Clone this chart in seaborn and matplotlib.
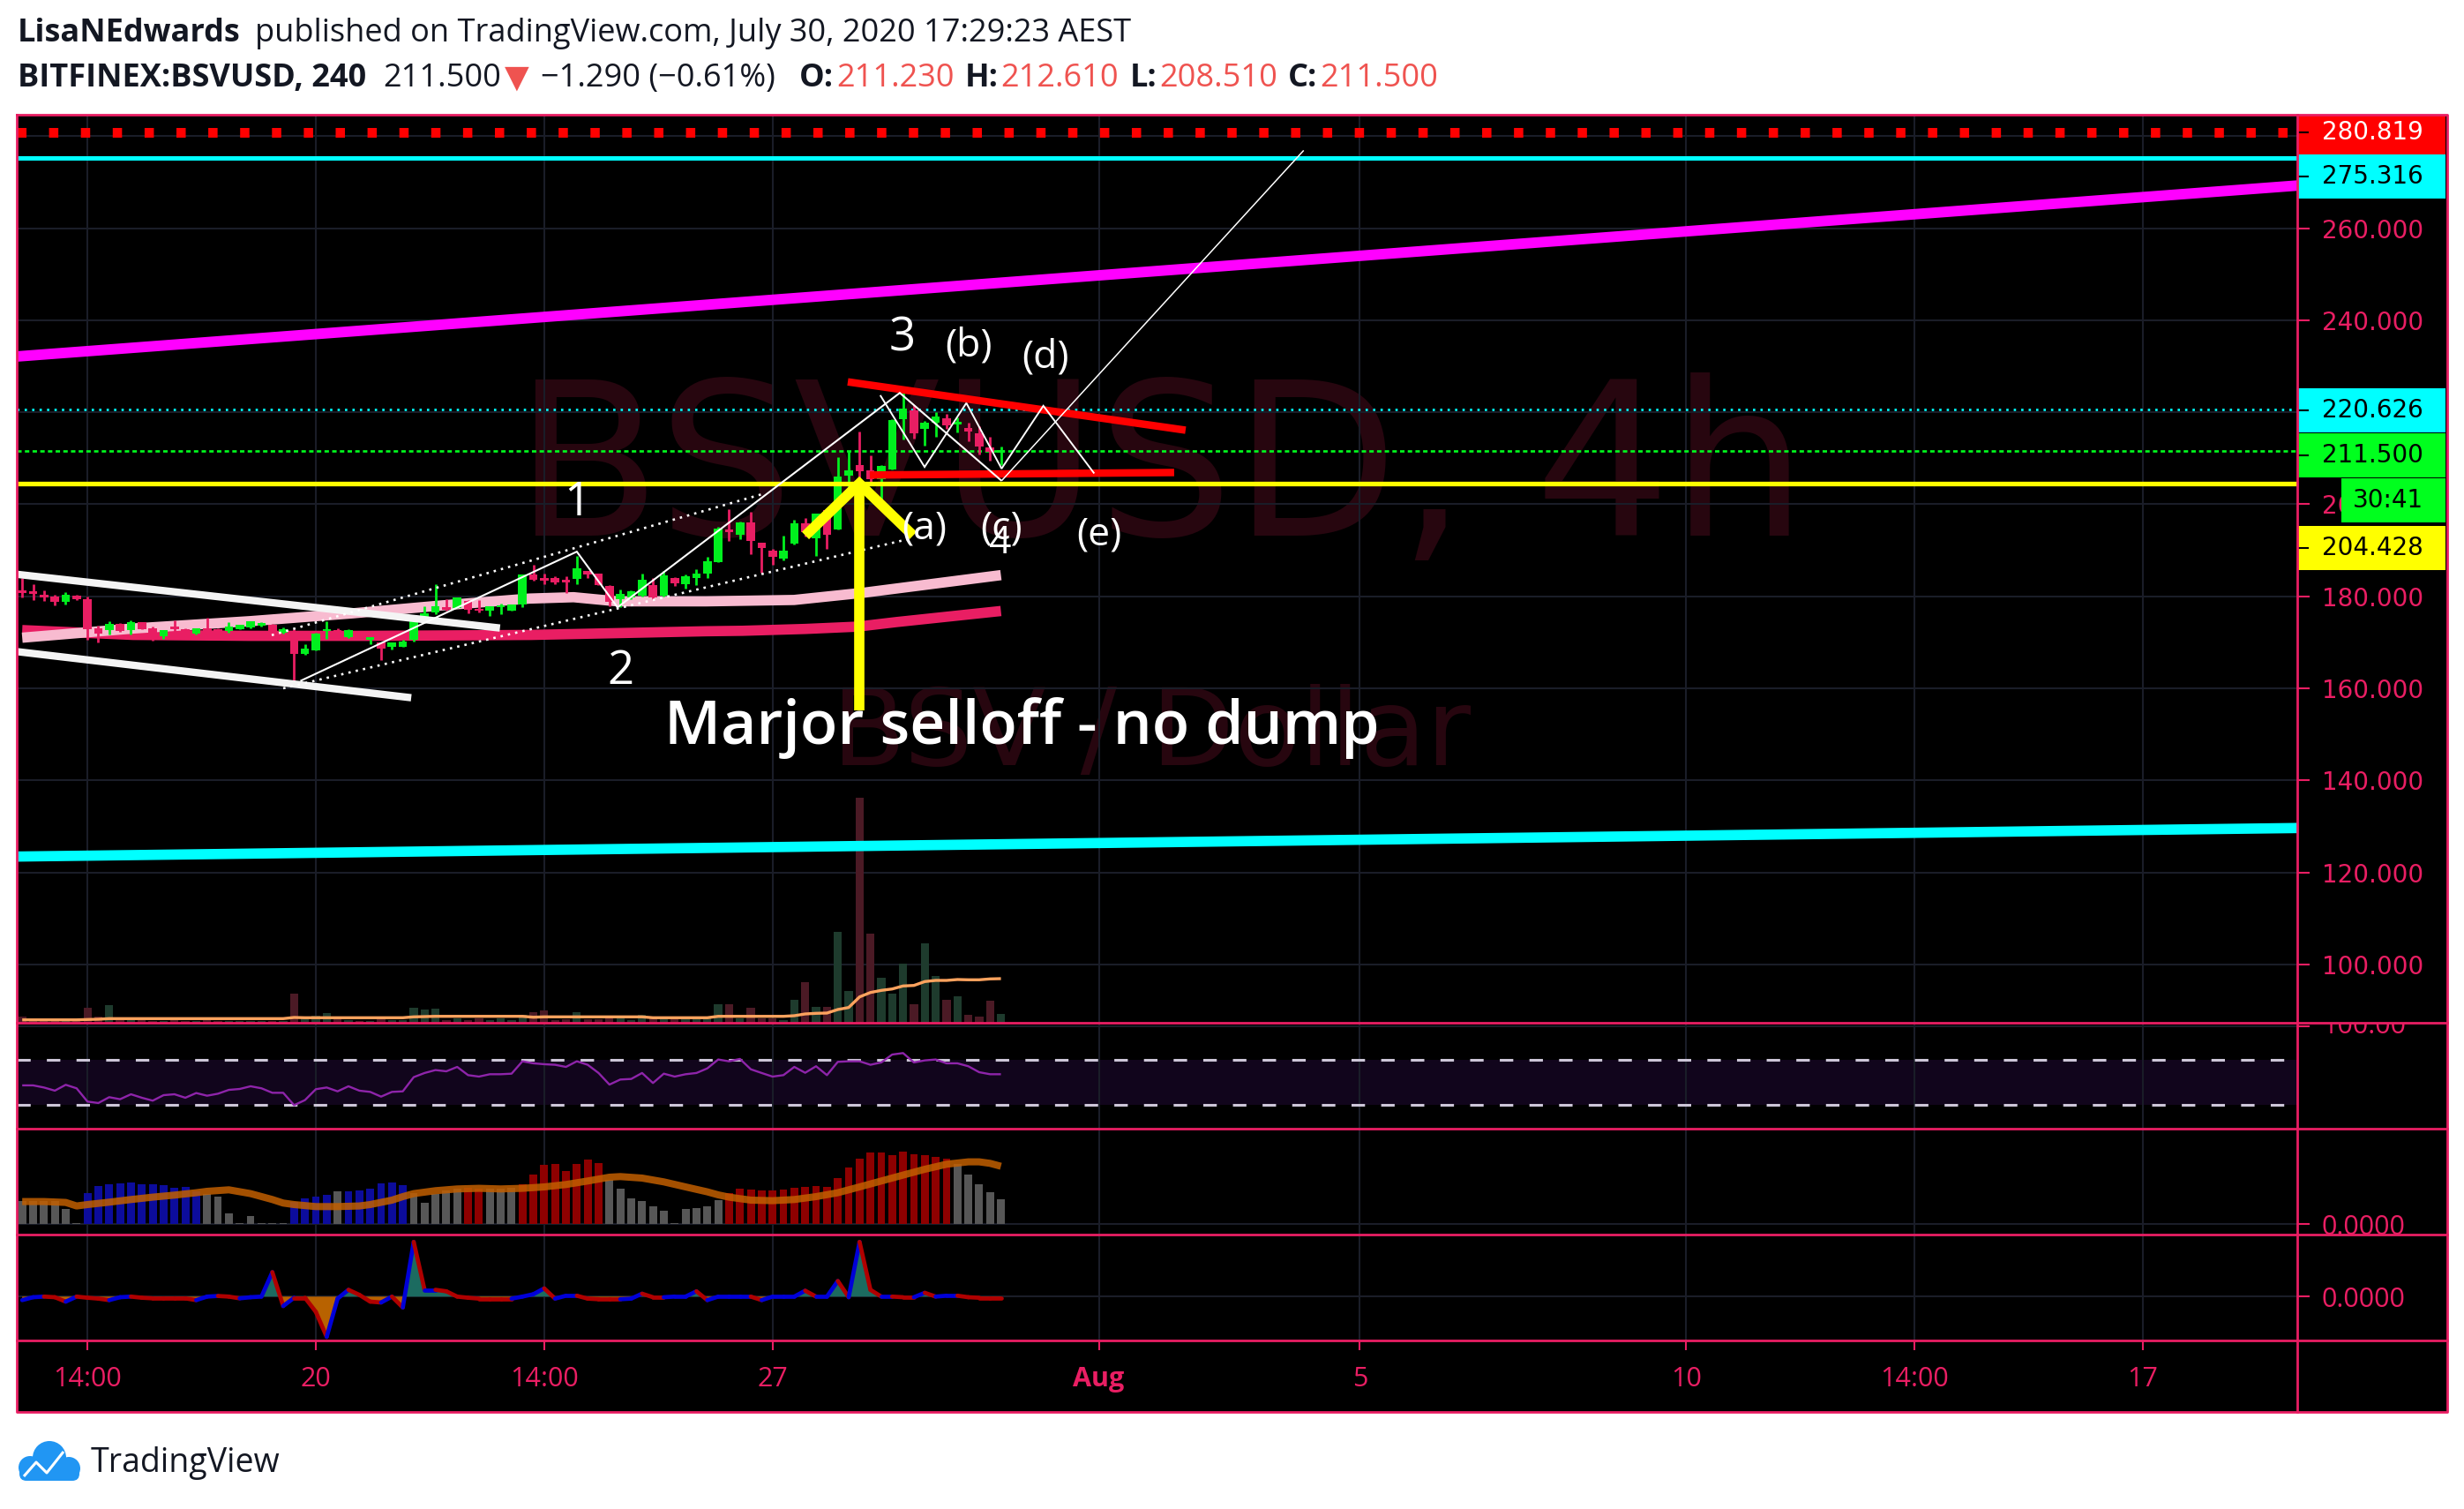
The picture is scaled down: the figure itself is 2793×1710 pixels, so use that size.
import numpy as np
import pandas as pd
import matplotlib
matplotlib.use("Agg")
import matplotlib.pyplot as plt
import matplotlib.transforms as mtransforms
from matplotlib.collections import LineCollection
from matplotlib.patches import Rectangle, Circle, FancyBboxPatch
from matplotlib import font_manager
import seaborn as sns

# ============================ DATA ============================
AUTHOR = "LisaNEdwards"
PUBLISHED = "published on TradingView.com, July 30, 2020 17:29:23 AEST"
SYMBOL = "BITFINEX:BSVUSD, 240"
LAST = "211.500"
CHANGE = "\u22121.290 (\u22120.61%)"
OHLC_KEYS = ["O:", "H:", "L:", "C:"]
OHLC_VALS = ["211.230", "212.610", "208.510", "211.500"]
WATERMARK = "BSVUSD, 4h"
WATERMARK2 = "BSV / Dollar"
NOTE = "Marjor selloff - no dump"

ORIGIN = "2020-07-20 02:00"            # the "20" tick
CANDLE_START = "2020-07-15 14:00"
CANDLE_END = "2020-07-30 14:00"        # 4h candles

OPEN = [181.0, 180.9, 180.3, 179.9, 178.7, 180.1, 179.4, 173.0, 172.6, 174.0,
        172.6, 174.3, 173.0, 171.4, 173.4, 172.9, 171.9, 172.9, 172.9, 172.5,
        172.9, 173.2, 173.6, 173.9, 172.1, 172.5, 167.5, 168.3, 172.4, 172.6,
        171.2, 171.6, 170.6, 169.9, 169.1, 169.1, 170.5, 175.3, 176.5, 177.6,
        177.4, 179.0, 177.2, 176.8, 177.6, 176.9, 178.2, 184.7, 184.0, 184.0,
        183.6, 183.8, 185.5, 184.9, 182.2, 179.3, 179.8, 180.1, 182.5, 180.1,
        184.0, 182.7, 184.0, 184.9, 187.5, 194.5, 193.4, 196.1, 191.6, 189.9,
        188.1, 191.4, 195.8, 192.6, 198.7, 194.5, 206.2, 208.6, 207.3, 205.4,
        207.6, 218.5, 220.4, 216.4, 217.8, 218.7, 217.4, 216.6, 215.5, 212.3,
        211.23]
HIGH = [184.0, 182.6, 181.3, 180.3, 180.9, 180.3, 179.9, 173.7, 174.6, 174.2,
        174.7, 174.3, 173.4, 172.6, 174.8, 173.0, 173.0, 175.3, 173.1, 174.3,
        173.9, 174.5, 174.4, 174.0, 173.2, 172.8, 169.6, 172.1, 174.5, 173.0,
        172.8, 172.0, 171.0, 169.9, 170.0, 170.5, 175.0, 177.8, 182.6, 179.3,
        179.7, 179.2, 179.2, 177.9, 178.4, 178.2, 184.8, 186.9, 184.9, 184.3,
        184.3, 188.8, 185.5, 184.9, 182.4, 181.4, 181.2, 184.9, 184.0, 185.6,
        184.1, 184.7, 185.9, 188.6, 195.0, 199.0, 196.3, 198.3, 191.6, 190.3,
        193.2, 196.7, 197.1, 198.0, 198.7, 210.2, 211.5, 215.9, 210.6, 208.6,
        218.5, 224.2, 221.5, 218.2, 220.1, 219.6, 218.8, 217.7, 217.0, 214.6,
        212.61]
LOW = [179.7, 179.2, 179.0, 178.0, 178.2, 179.2, 170.5, 170.0, 171.7, 172.3,
       171.7, 172.9, 170.4, 170.7, 171.5, 172.1, 171.7, 172.5, 172.0, 172.1,
       172.8, 173.1, 173.4, 171.8, 171.8, 161.6, 167.3, 168.3, 170.7, 171.2,
       171.0, 170.8, 169.5, 166.1, 168.4, 169.1, 170.1, 175.3, 176.2, 176.8,
       177.4, 176.3, 176.5, 175.8, 176.2, 176.9, 177.6, 183.3, 182.7, 182.7,
       180.8, 182.7, 184.0, 182.5, 177.9, 177.6, 179.3, 180.0, 179.3, 180.0,
       182.2, 181.7, 182.5, 184.0, 187.5, 192.0, 192.5, 189.1, 185.2, 186.8,
       187.8, 191.3, 192.9, 188.7, 190.3, 194.5, 201.2, 203.0, 204.5, 200.9,
       207.6, 214.0, 214.2, 212.7, 214.7, 216.3, 215.6, 213.7, 210.8, 209.5,
       208.51]
CLOSE = [180.7, 180.5, 179.7, 178.7, 180.4, 179.3, 172.9, 171.8, 174.0, 172.5,
         174.3, 172.9, 170.9, 172.6, 172.8, 172.1, 173.0, 172.5, 172.3, 173.5,
         173.9, 174.5, 174.2, 172.5, 172.9, 167.5, 168.7, 171.9, 172.7, 171.4,
         172.6, 171.2, 170.9, 168.6, 170.0, 170.2, 175.0, 176.3, 177.8, 177.0,
         179.7, 177.0, 176.8, 177.8, 178.1, 178.2, 184.8, 183.5, 183.4, 183.0,
         183.1, 186.1, 184.8, 182.5, 178.7, 180.6, 181.0, 183.6, 179.7, 184.6,
         182.9, 184.4, 184.9, 187.6, 194.8, 194.0, 196.1, 192.1, 190.4, 188.6,
         189.9, 195.8, 193.9, 198.0, 193.4, 206.0, 207.3, 207.2, 205.4, 208.3,
         218.3, 220.7, 215.5, 217.8, 219.1, 217.2, 217.8, 215.9, 212.5, 211.4,
         211.5]
VOLUME = [7.3, 2.7, 2.0, 2.7, 2.7, 2.0, 17.3, 6.7, 19.7, 2.7,
          2.7, 2.7, 2.0, 2.5, 3.0, 2.5, 2.5, 3.0, 2.5, 2.5,
          2.5, 2.0, 2.5, 2.5, 2.5, 32.7, 5.0, 8.3, 10.7, 6.0,
          3.0, 2.5, 2.5, 7.3, 3.0, 3.0, 17.3, 14.7, 16.3, 3.3,
          5.0, 3.3, 4.7, 2.7, 5.0, 3.3, 9.3, 12.3, 14.3, 3.3,
          4.0, 12.3, 4.0, 4.0, 8.3, 5.0, 2.7, 9.3, 5.0, 5.0,
          4.0, 4.0, 4.0, 5.0, 21.3, 21.3, 5.0, 17.3, 5.0, 5.0,
          2.7, 26.3, 45.7, 18.3, 18.3, 102.7, 35.7, 254.7, 100.7, 51.3,
          32.7, 67.3, 20.7, 89.7, 52.7, 25.7, 29.7, 9.0, 6.7, 24.7,
          10.0]
VOL_MA = [3.3, 3.3, 3.3, 3.3, 3.3, 3.3, 3.7, 4.0, 4.7, 4.7,
          4.7, 4.7, 4.7, 4.7, 4.7, 4.7, 4.7, 4.7, 4.7, 4.7,
          4.7, 4.7, 4.7, 4.7, 4.7, 6.0, 5.7, 5.7, 5.7, 5.7,
          5.7, 5.7, 5.7, 5.7, 5.7, 5.7, 6.7, 7.0, 7.3, 7.3,
          7.3, 7.3, 7.3, 7.3, 7.3, 7.3, 7.3, 6.3, 6.7, 6.7,
          6.7, 6.7, 6.7, 6.7, 6.7, 6.7, 6.7, 6.7, 5.7, 5.7,
          5.7, 5.7, 5.7, 5.7, 7.3, 7.3, 7.3, 7.3, 7.3, 7.3,
          7.3, 8.0, 10.0, 10.7, 11.0, 15.0, 17.3, 29.3, 34.3, 36.7,
          38.3, 41.7, 42.3, 46.7, 48.0, 48.0, 49.0, 48.7, 48.7, 49.7,
          50.0]
RSI = [47.3, 47.3, 45.4, 42.6, 47.8, 44.7, 32.9, 31.6, 36.8, 35.0,
       39.4, 36.3, 33.7, 38.6, 39.4, 36.3, 40.5, 38.1, 39.9, 43.3,
       44.1, 46.5, 44.7, 40.7, 40.7, 29.7, 34.2, 43.9, 45.4, 42.0,
       46.5, 42.6, 41.5, 37.3, 41.5, 42.0, 54.6, 58.3, 60.9, 59.8,
       63.7, 56.4, 55.1, 57.2, 57.2, 57.7, 68.7, 66.9, 66.1, 65.6,
       63.7, 68.7, 65.6, 58.3, 48.0, 52.5, 53.0, 58.3, 49.4, 57.7,
       55.1, 57.2, 58.3, 62.4, 70.3, 68.7, 70.8, 61.6, 58.3, 55.1,
       56.4, 63.7, 58.5, 64.3, 56.4, 68.2, 68.7, 68.7, 65.6, 67.7,
       74.7, 76.0, 67.7, 69.5, 70.3, 66.9, 66.9, 64.3, 59.0, 57.2,
       57.2]
RSI_BANDS = [70, 30]
HIST = [26.3, 26.3, 26.3, 26.3, 17.3, 1.3, 35.7, 43.3, 45.3, 46.3,
        47.3, 45.3, 45.3, 44.0, 41.3, 42.3, 37.3, 34.0, 31.3, 12.3,
        1.3, 9.7, 1.3, 1.3, 1.3, 25.7, 29.0, 31.3, 33.3, 37.3,
        37.3, 38.0, 40.0, 46.7, 47.3, 44.0, 35.7, 24.0, 34.7, 38.0,
        40.0, 41.3, 40.0, 40.0, 40.0, 41.3, 45.3, 56.3, 67.3, 68.0,
        60.7, 68.0, 73.3, 69.0, 50.0, 40.0, 29.7, 26.3, 20.0, 15.3,
        1.3, 17.3, 18.0, 20.0, 27.3, 35.7, 40.0, 39.0, 38.0, 38.0,
        39.0, 41.3, 42.3, 43.3, 42.3, 52.3, 64.7, 74.7, 81.3, 81.3,
        78.7, 82.3, 79.0, 78.0, 76.3, 74.0, 68.0, 56.3, 45.3, 36.3,
        28.3]
HIST_STATE = ("gggggg" "bbbbbbbbbbb" "gggggggg" "bbbb" "g" "bbbbbb" "ggggg" "rr" "ggg"
              "rrrrrrrr" "ggggggggggg" "rrrrrrrrrrrrrrrrrrrrr" "ggggg")
SIGNAL_IDX = [0, 2, 4, 5, 6, 8, 10, 12, 14, 16, 17, 19, 21, 23, 24, 25, 27, 29, 31, 32,
              34, 35, 36, 38, 40, 42, 44, 46, 48, 50, 52, 54, 55, 57, 59, 61, 63, 64, 65, 67,
              69, 71, 73, 75, 77, 79, 81, 83, 85, 87, 88, 89, 90]
SIGNAL = [25.7, 25.7, 24.7, 20.7, 22.3, 25.0, 28.0, 30.7, 33.0, 35.7, 37.3, 39.0, 34.7, 28.0,
          24.0, 22.3, 20.0, 20.0, 20.7, 22.3, 27.3, 31.3, 34.7, 38.0, 40.0, 40.7, 40.0, 40.7,
          42.3, 45.0, 49.0, 53.3, 54.0, 52.3, 48.0, 42.3, 36.7, 33.3, 30.7, 27.3, 26.7, 28.0,
          31.3, 35.7, 42.3, 49.0, 55.7, 62.3, 68.0, 70.7, 70.7, 69.0, 65.7]
OSC = [-4, -0.7, 0, -0.7, -5.7, 0, -1.3, -2.3, -4, -0.7,
       0, -1.3, -2, -2, -2, -2, -4, 0, 0.7, 0,
       -2, -0.7, 0, 27.7, -10.7, -1.3, -1.3, -17.3, -45.7, -2.3,
       7.7, 2, -5.7, -6.7, 0, -12.3, 62, 7.7, 7.7, 6,
       0, -1.3, -2.3, -2.3, -2.3, -2.3, 0, 2.7, 9.3, -2.3,
       1, 1, -2.3, -3, -3, -3, -2.3, 3.3, -0.7, -0.7,
       0, 0, 6, -4, 0, 0, 0, 0, -4, 0,
       0, 0, 6.7, 0, 0, 17.7, -0.7, 62, 7.7, 0,
       0, -0.7, -0.7, 4.3, 0, 1, 1, -0.7, -1.3, -1.3,
       -1.3]

# moving-average ribbons (days from ORIGIN, price)
MA_FAST_D = [-4.5, -2.8, -1.0, 0.57, 1.92, 3.27, 3.95, 4.62, 5.98, 7.33, 8.41, 9.4, 10.5]
MA_FAST_P = [171.0, 173.0, 174.6, 176.3, 178.0, 179.5, 179.8, 178.9, 178.9, 179.2, 180.8, 182.6, 184.6]
MA_SLOW_D = [-4.5, -2.8, -0.99, 0.81, 3.3, 5.98, 6.54, 7.5, 8.3, 8.9, 9.7, 10.5]
MA_SLOW_P = [172.65, 171.6, 171.4, 171.4, 171.6, 172.4, 172.5, 172.9, 173.4, 174.4, 175.6, 176.8]

# horizontal levels / price tags
LEVEL_TOP, LEVEL_CYAN, LEVEL_CYAN_DOT, LEVEL_LAST, LEVEL_YELLOW = 280.819, 275.316, 220.626, 211.500, 204.428
PRICE_TAGS = ["280.819", "275.316", "220.626", "211.500", "204.428"]
COUNTDOWN = "30:41"
PRICE_TICKS = [100, 120, 140, 160, 180, 200, 220, 240, 260, 280]

# drawings (days from ORIGIN, price)
MAGENTA_LINE = [(-4.6, 232.1), (30.4, 269.3)]
CYAN_LINE = [(-4.6, 123.43), (30.4, 129.64)]
WEDGE_UPPER = [(-4.597, 184.8), (2.822, 173.1)]
WEDGE_LOWER = [(-4.597, 168.0), (1.462, 157.95)]
CHANNEL_UPPER = [(-0.676, 171.55), (6.83, 202.15)]
CHANNEL_LOWER = [(-0.5, 160.0), (9.13, 192.6)]
WAVES = [(-0.237, 161.6), (4.0, 189.7), (4.624, 177.6), (8.95, 224.2), (10.51, 205.1)]
WAVE5 = [(10.51, 205.1), (15.14, 276.9)]
TRIANGLE = [(8.65, 223.7), (9.33, 208.1), (9.97, 222.0), (10.51, 207.75), (11.15, 221.4), (11.93, 206.7)]
RED_UPPER = [(8.153, 226.6), (13.33, 216.1)]
RED_LOWER = [(8.49, 206.35), (13.155, 206.9)]
ARROW_SHAFT = [(8.329, 155.2), (8.329, 204.5)]
ARROW_HEAD = [(7.504, 193.2), (8.329, 204.5), (9.154, 193.2)]
WAVE_LABELS = ["3", "(b)", "(d)", "1", "(a)", "(c)", "4", "(e)", "2"]
WAVE_LABEL_POS = [(8.99, 233.3), (10.0, 232.25), (11.18, 229.7), (4.0, 197.6), (9.33, 192.6),
                  (10.505, 192.6), (10.49, 189.4), (12.0, 191.1), (4.67, 161.0)]
NOTE_POS = (10.82, 148.0)

TICK_TIMES = ["2020-07-16 14:00", "2020-07-20 02:00", "2020-07-23 14:00", "2020-07-27 02:00",
              "2020-08-01 02:00", "2020-08-05 02:00", "2020-08-10 02:00", "2020-08-13 14:00",
              "2020-08-17 02:00"]
TICK_LABELS = ["14:00", "20", "14:00", "27", "Aug", "5", "10", "14:00", "17"]

# ============================ STYLE ============================
sns.set_style("dark")
names = {f.name for f in font_manager.fontManager.ttflist}
def pick(*c):
    for n in c:
        if n in names:
            return n
    return "DejaVu Sans"
UI = pick("Open Sans", "Noto Sans", "Roboto")
NARROW = pick("Liberation Sans Narrow", "DejaVu Sans")
plt.rcParams["font.family"] = [UI, "DejaVu Sans"]
plt.rcParams["lines.solid_capstyle"] = "butt"
plt.rcParams["lines.dash_capstyle"] = "butt"

CRIMSON = "#e91e63"
GRID = "#1a1d28"
UP = "#00f01e"
DOWN = "#e91e63"
DARK = "#131722"
HRED = "#ef5350"
WM = "#27060f"

W, H, DPI = 2793, 1710, 100
L, R, RA = 19, 2604, 2774
T_MAIN, B_MAIN, B_RSI, B_MACD, B_BOT, B_TIME = 130, 1159, 1279, 1399, 1519, 1600
XLIM = (-4.5836, 30.368)
MAIN_YLIM = (87.31, 284.66)
VOL_AXIS_MAX = 1029.0
RSI_YLIM = (8.82, 102.94)
MACD_YLIM = (-11.7, 108.3)
OSC_YLIM = (-49.7, 70.3)

fig = plt.figure(figsize=(W / DPI, H / DPI), dpi=DPI, facecolor="white")

def px_axes(x0, y0, x1, y1, z=1):
    a = fig.add_axes([x0 / W, 1 - y1 / H, (x1 - x0) / W, (y1 - y0) / H])
    a.set_zorder(z)
    return a

origin = pd.Timestamp(ORIGIN)
times = pd.date_range(CANDLE_START, CANDLE_END, freq="4h")
x = np.asarray((times - origin) / pd.Timedelta("1D"), dtype=float)
tick_x = [(pd.Timestamp(t) - origin) / pd.Timedelta("1D") for t in TICK_TIMES]
O, Hh, Lo, C = map(np.asarray, (OPEN, HIGH, LOW, CLOSE))
up = C >= O
BAR_W = 0.78 / 6

bg = px_axes(L, T_MAIN, RA, B_TIME, z=-5)
bg.set_facecolor("black"); bg.set_xticks([]); bg.set_yticks([])
for s in bg.spines.values():
    s.set_visible(False)

def style_pane(a, ylim):
    a.set_facecolor("black")
    a.set_xlim(*XLIM); a.set_ylim(*ylim)
    for s in a.spines.values():
        s.set_visible(False)
    a.set_xticks(tick_x)
    a.tick_params(axis="x", bottom=False, labelbottom=False)
    a.grid(True, color=GRID, lw=1.5)
    a.set_axisbelow(True)
    a.yaxis.tick_right()
    a.tick_params(axis="y", left=False, right=True, length=10, width=1.5, color=CRIMSON,
                  labelcolor=CRIMSON, labelsize=20, pad=10)
    a.set_xlabel(""); a.set_ylabel("")

# ---------------- main pane ----------------
ax = px_axes(L, T_MAIN, R, B_MAIN, z=1)
style_pane(ax, MAIN_YLIM)
ax.set_yticks(PRICE_TICKS)
ax.set_yticklabels([f"{v:.3f}" for v in PRICE_TICKS], fontfamily="DejaVu Sans")

ax.text(12.95, 193.2, WATERMARK, ha="center", va="baseline", color=WM,
        fontsize=208 if NARROW != "DejaVu Sans" else 175, family=NARROW, zorder=0.2)
ax.text(12.80, 143.3, WATERMARK2, ha="center", va="baseline", color=WM,
        fontsize=88, family="DejaVu Sans", zorder=0.2)

vol_tr = mtransforms.blended_transform_factory(
    ax.transData, mtransforms.Affine2D().scale(1, 1 / VOL_AXIS_MAX) + ax.transAxes)
ax.bar(x, VOLUME, width=0.75 / 6, color=np.where(up, "#1e3b2d", "#4b1a25"),
       transform=vol_tr, zorder=1.5, linewidth=0)
ax.plot(x, VOL_MA, color="#ffa35e", lw=2.4, transform=vol_tr, zorder=1.6)

def seg(pts, **kw):
    p = np.asarray(pts, dtype=float)
    ax.plot(p[:, 0], p[:, 1], **kw)

seg(CYAN_LINE, color="#00ffff", lw=8.4, zorder=2)
seg(MAGENTA_LINE, color="#ff00ff", lw=8.6, zorder=2)
ax.axhline(LEVEL_TOP, color="#ff0000", lw=7.9, ls=(0, (0.96, 2.33)), zorder=2)
ax.axhline(LEVEL_CYAN, color="#00ffff", lw=3.6, zorder=2)
ax.axhline(LEVEL_CYAN_DOT, color="#00ffff", lw=1.9, ls=(0, (1.0, 2.2)), zorder=3)
ax.axhline(LEVEL_LAST, color="#00ff1e", lw=1.9, ls=(0, (1.9, 1.4)), zorder=3)

sns.lineplot(x=MA_SLOW_D, y=MA_SLOW_P, ax=ax, color="#e91e63", linewidth=8.4, zorder=3.5,
             legend=False, sort=False)
sns.lineplot(x=MA_FAST_D, y=MA_FAST_P, ax=ax, color="#f8bbd0", linewidth=8.4, zorder=3.6,
             legend=False, sort=False)

ax.vlines(x, Lo, Hh, colors=np.where(up, UP, DOWN), lw=2.0, zorder=5)
ax.bar(x, np.maximum(np.abs(C - O), 0.5), bottom=np.minimum(O, C), width=BAR_W,
       color=np.where(up, UP, DOWN), linewidth=0, zorder=5.5)

ax.axhline(LEVEL_YELLOW, color="#ffff00", lw=3.8, zorder=7)
seg(WEDGE_UPPER, color="#f4f4f4", lw=6.0, zorder=7)
seg(WEDGE_LOWER, color="#f4f4f4", lw=6.0, zorder=7)
seg(CHANNEL_UPPER, color="white", lw=1.9, ls=(0, (1.0, 2.2)), zorder=7)
seg(CHANNEL_LOWER, color="white", lw=1.9, ls=(0, (1.0, 2.2)), zorder=7)
seg(RED_UPPER, color="#ff0000", lw=6.1, zorder=7.5)
seg(RED_LOWER, color="#ff0000", lw=6.1, zorder=7.5)
seg(WAVES, color="white", lw=1.5, zorder=8, solid_joinstyle="miter")
seg(WAVE5, color="white", lw=1.1, zorder=8)
seg(TRIANGLE, color="white", lw=1.4, zorder=8, solid_joinstyle="miter")
seg(ARROW_SHAFT, color="#ffff00", lw=8.4, zorder=9)
seg(ARROW_HEAD, color="#ffff00", lw=8.4, zorder=9, solid_joinstyle="miter")

for lab, (dx, py) in zip(WAVE_LABELS, WAVE_LABEL_POS):
    fs = 38 if lab in ("1", "2", "3") else 32
    ax.text(dx, py, lab, ha="center", va="baseline", color="white", fontsize=fs, zorder=10)
ax.text(NOTE_POS[0], NOTE_POS[1], NOTE, ha="center", va="baseline", color="white",
        fontsize=50, fontweight="semibold", zorder=10)

# price column tags
ax_pc = px_axes(R, T_MAIN, RA, B_MAIN, z=3)
ax_pc.set_xlim(R, RA); ax_pc.set_ylim(B_MAIN, T_MAIN); ax_pc.axis("off")
TAG_CY = [150, 200, 464.6, 516, 620.6]
TAG_BG = ["#ff0000", "#00ffff", "#00ffff", "#00ff1e", "#ffff00"]
TAG_FG = ["white", "black", "black", "black", "black"]
for txt, cy, b, f in zip(PRICE_TAGS, TAG_CY, TAG_BG, TAG_FG):
    ax_pc.add_patch(Rectangle((R, cy - 25), RA - 2 - R, 50, color=b, lw=0))
    ax_pc.plot([R, R + 13], [cy, cy], color="black", lw=1.5)
    ax_pc.text(2632, cy, txt, va="center", ha="left", color=f, fontsize=20, family="DejaVu Sans")
ax_pc.add_patch(Rectangle((2654, 567 - 25), RA - 2 - 2654, 50, color="#00ff1e", lw=0))
ax_pc.text(2667, 567, COUNTDOWN, va="center", ha="left", color="black", fontsize=20,
           family="DejaVu Sans")

# ---------------- RSI pane ----------------
ax_r = px_axes(L, B_MAIN, R, B_RSI, z=1)
style_pane(ax_r, RSI_YLIM)
ax_r.set_yticks([100]); ax_r.set_yticklabels([""])
ax_r.axhspan(RSI_BANDS[1], RSI_BANDS[0], color="#11051c", zorder=0.3, lw=0)
for b in RSI_BANDS:
    ax_r.axhline(b, color="#cdc6d8", lw=2.2, ls=(0, (5.0, 6.0)), zorder=1)
sns.lineplot(x=x, y=RSI, ax=ax_r, color="#8e24aa", linewidth=1.7, legend=False, zorder=2)
ax_r.set_xlabel(""); ax_r.set_ylabel("")
ax_rl = px_axes(R, B_MAIN, RA, B_RSI, z=3)
ax_rl.set_xlim(R, RA); ax_rl.set_ylim(*RSI_YLIM); ax_rl.axis("off")
ax_rl.text(2632, 100, "100.00", va="center", ha="left", color=CRIMSON, fontsize=22, clip_on=True)

# ---------------- histogram pane ----------------
ax_m = px_axes(L, B_RSI, R, B_MACD, z=1)
style_pane(ax_m, MACD_YLIM)
ax_m.set_yticks([0]); ax_m.set_yticklabels(["0.0000"], fontsize=22)
hcol = {"g": "#575757", "b": "#0c0c9c", "r": "#8e0000"}
ax_m.bar(x, HIST, width=0.72 / 6, color=[hcol[s] for s in HIST_STATE], linewidth=0, zorder=2)
ax_m.plot(x[SIGNAL_IDX], SIGNAL, color="#c25f00", lw=5.8, alpha=0.85, zorder=3,
          solid_joinstyle="round", solid_capstyle="butt")

# ---------------- oscillator pane ----------------
ax_b = px_axes(L, B_MACD, R, B_BOT, z=1)
style_pane(ax_b, OSC_YLIM)
ax_b.set_yticks([0]); ax_b.set_yticklabels(["0.0000"], fontsize=22)
osc = np.asarray(OSC, dtype=float)
ax_b.fill_between(x, 0, osc, where=osc > 0, interpolate=True, color="#1c6b60", lw=0, zorder=1.5)
ax_b.fill_between(x, 0, osc, where=osc < 0, interpolate=True, color="#b86200", lw=0, zorder=1.5)
pts = np.column_stack([x, osc])
segs = np.stack([pts[:-1], pts[1:]], axis=1)
dv = np.diff(osc)
seg_cols = np.where((dv < 0) | ((dv == 0) & (osc[1:] < 0)), "#b00000", "#0000d8")
ax_b.add_collection(LineCollection(segs, colors=seg_cols, linewidths=3.4, zorder=2,
                                   capstyle="round", joinstyle="round"))
ax_b.tick_params(axis="x", bottom=True, labelbottom=True, length=8, width=1.5, color=CRIMSON,
                 labelcolor=CRIMSON, labelsize=22, pad=13, direction="out")
ax_b.set_xticklabels(TICK_LABELS)
for t, lab in zip(ax_b.get_xticklabels(), TICK_LABELS):
    if not lab.isdigit() and ":" not in lab:
        t.set_fontweight("bold")

# ---------------- frame ----------------
ov = px_axes(0, 0, W, H, z=20)
ov.set_xlim(0, W); ov.set_ylim(H, 0); ov.axis("off")
fl = dict(color=CRIMSON, lw=2.0, solid_capstyle="projecting")
ov.plot([L, RA, RA, L, L], [T_MAIN, T_MAIN, B_TIME, B_TIME, T_MAIN], **fl)
for yy in (B_MAIN, B_RSI, B_MACD, B_BOT):
    ov.plot([L, RA], [yy, yy], **fl)
ov.plot([R, R], [T_MAIN, B_TIME], **fl)

# ---------------- header ----------------
renderer = fig.canvas.get_renderer()
def runs(items, x0, ybase, size):
    xx = x0
    for txt, weight, color, gap in items:
        t = fig.text(xx / W, 1 - ybase / H, txt, fontsize=size, fontweight=weight, color=color,
                     va="baseline", ha="left", family=[UI, "DejaVu Sans"])
        xx += t.get_window_extent(renderer=renderer).width + gap

runs([(AUTHOR, "bold", DARK, 17), (PUBLISHED, "normal", DARK, 0)], 19.5, 46.7, 26)
line2 = [(SYMBOL, "bold", DARK, 20), (LAST, "normal", DARK, 3), ("\u25bc", "normal", HRED, 14),
         (CHANGE, "normal", DARK, 27)]
for k, v in zip(OHLC_KEYS, OHLC_VALS):
    line2 += [(k, "bold", DARK, 3), (v, "normal", HRED, 12)]
runs(line2, 19.5, 98.3, 26)

# ---------------- footer logo ----------------
lg = px_axes(14, 1625, 100, 1690, z=5)
lg.set_xlim(14, 100); lg.set_ylim(1690, 1625); lg.axis("off")
BLUE = "#2196f3"
for cx, cy, rr in [(34, 1663, 13), (56, 1652, 19), (78, 1664, 13)]:
    lg.add_patch(Circle((cx, cy), rr, color=BLUE, lw=0))
lg.add_patch(FancyBboxPatch((22, 1660), 68, 18, boxstyle="round,pad=0,rounding_size=8",
                            color=BLUE, lw=0))
lg.plot([27, 41, 53, 72], [1673, 1657, 1669, 1645], color="white", lw=2.2)
fig.text(103 / W, 1 - 1668 / H, "TradingView", fontsize=27, color=DARK, va="baseline",
         ha="left", family=[UI, "DejaVu Sans"])

fig.savefig("out.png", dpi=DPI, facecolor="white")
